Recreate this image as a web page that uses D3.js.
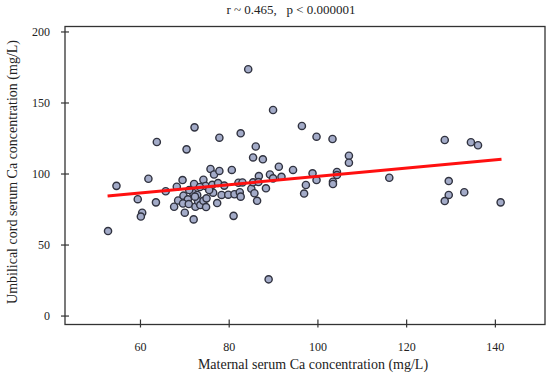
<!DOCTYPE html>
<html>
<head>
<meta charset="utf-8">
<script src="https://cdn.jsdelivr.net/npm/d3@7"></script>
<style>
  body { margin: 0; background: #fff; }
  text { font-family: "Liberation Serif", "Times New Roman", serif; fill: #222; }
</style>
</head>
<body>
<div id="vis-holder"></div>
<script>
// maternal serum Ca (x) and umbilical cord serum Ca (y), mg/L
const maternalCa = [84.4, 90.0, 72.3, 63.8, 70.5, 77.9, 82.7, 86.1, 96.5, 99.8, 103.4, 107.1, 107.1,
  85.5, 87.7, 91.3, 94.5, 128.7, 134.6, 136.2, 116.2, 129.6, 129.6, 128.7, 133.1, 141.3, 89.0,
  52.8, 54.7, 61.9, 59.5, 63.6, 60.5, 60.2, 65.8, 68.3, 69.6, 67.7, 68.6, 69.8, 70.1, 72.1,
  70.8, 69.7, 71.0, 72.2, 72.0, 71.1, 72.9, 72.5, 73.1, 73.6, 74.3, 74.9, 74.3, 75.9, 76.7,
  77.9, 74.8, 73.5, 76.3, 76.5, 77.6, 79.0, 77.4, 78.4, 79.9, 80.7, 81.1, 81.3, 82.2, 82.5,
  82.7, 83.1, 85.1, 85.5, 85.8, 86.4, 86.8, 86.7, 88.4, 89.3, 90.0, 91.9, 97.0, 97.4, 98.9,
  99.8, 104.4, 104.4, 103.5, 103.5, 72.4, 75.0, 75.6];
const cordCa = [173.4, 144.7, 132.5, 122.2, 117.0, 125.2, 128.3, 119.0, 133.5, 125.9, 124.3, 112.5, 107.6,
  111.3, 110.0, 104.8, 102.5, 123.6, 122.0, 119.9, 97.0, 94.7, 84.9, 80.6, 86.8, 79.7, 25.5,
  59.5, 91.3, 96.3, 81.9, 79.7, 72.4, 69.7, 87.5, 90.7, 95.4, 76.6, 81.0, 84.4, 72.4, 67.7,
  81.8, 78.9, 78.5, 92.6, 86.3, 88.4, 84.9, 76.6, 80.5, 77.8, 80.8, 76.4, 95.6, 103.2, 99.3,
  101.8, 91.2, 90.5, 92.0, 86.5, 93.3, 91.5, 79.2, 84.9, 85.1, 102.5, 70.2, 85.4, 93.5, 86.8,
  83.7, 93.7, 89.3, 93.8, 86.1, 80.8, 98.2, 94.0, 89.6, 99.3, 96.6, 97.7, 85.9, 91.9, 100.1,
  95.4, 101.1, 98.9, 94.2, 92.6, 83.7, 82.5, 88.4];

// regression line end points
const fitX = [52.7, 141.5];
const fitY = [84.2, 110.0];

const xTicks = [60, 80, 100, 120, 140];
const yTicks = [0, 50, 100, 150, 200];
const title = "r ~ 0.465,   p < 0.000001";
const xLabel = "Maternal serum Ca concentration (mg/L)";
const yLabel = "Umbilical cord serum Ca concentration (mg/L)";

const w = 550;
const h = 376;
const plotL = 65, plotR = 545, plotT = 26.5, plotB = 324.5;

const svg = d3.select("#vis-holder").append("svg")
    .attr("width", w)
    .attr("height", h);

const x = d3.scaleLinear().domain([43.1, 151.3]).range([plotL, plotR]);
const y = d3.scaleLinear().domain([-6.3, 203.5]).range([plotB, plotT]);

// frame
svg.append("rect")
    .attr("x", plotL).attr("y", plotT)
    .attr("width", plotR - plotL).attr("height", plotB - plotT)
    .attr("fill", "none")
    .attr("stroke", "#333")
    .attr("stroke-width", 1.3);

// y axis, ticks cross the frame line
const yAxis = svg.append("g")
    .attr("transform", "translate(" + plotL + ",0)")
    .call(d3.axisLeft(y).tickValues(yTicks).tickSize(4).tickPadding(11));
yAxis.select(".domain").remove();
yAxis.selectAll(".tick line").attr("x2", -4).attr("x1", 4).attr("stroke", "#333").attr("stroke-width", 1.2);
yAxis.selectAll(".tick text").style("font-size", "12px").style("font-family", "Liberation Serif").attr("fill", "#333");

// x axis
const xAxis = svg.append("g")
    .attr("transform", "translate(0," + plotB + ")")
    .call(d3.axisBottom(x).tickValues(xTicks).tickSize(4));
xAxis.select(".domain").remove();
xAxis.selectAll(".tick line").attr("y1", -5).attr("y2", 3).attr("stroke", "#333").attr("stroke-width", 1.2);
xAxis.selectAll(".tick text").attr("y", 18).style("font-size", "12px").style("font-family", "Liberation Serif").attr("fill", "#333");

// points
svg.selectAll("circle")
    .data(maternalCa.map((d, i) => [d, cordCa[i]]))
    .enter()
    .append("circle")
    .attr("cx", d => x(d[0]))
    .attr("cy", d => y(d[1]))
    .attr("r", 3.6)
    .attr("fill", "#a3abc8")
    .attr("stroke", "#30323f")
    .attr("stroke-width", 1.4);

// regression line
svg.append("line")
    .attr("x1", x(fitX[0])).attr("y1", y(fitY[0]))
    .attr("x2", x(fitX[1])).attr("y2", y(fitY[1]))
    .attr("stroke", "#ff1010")
    .attr("stroke-width", 3);

// title
svg.append("text")
    .attr("x", 291).attr("y", 14)
    .attr("text-anchor", "middle")
    .style("font-size", "13px")
    .style("white-space", "pre")
    .text(title);

svg.append("text")
    .attr("x", 313).attr("y", 369)
    .attr("text-anchor", "middle")
    .style("font-size", "14px")
    .text(xLabel);

svg.append("text")
    .attr("transform", "translate(17,172) rotate(-90)")
    .attr("text-anchor", "middle")
    .style("font-size", "14px")
    .text(yLabel);
</script>
</body>
</html>
